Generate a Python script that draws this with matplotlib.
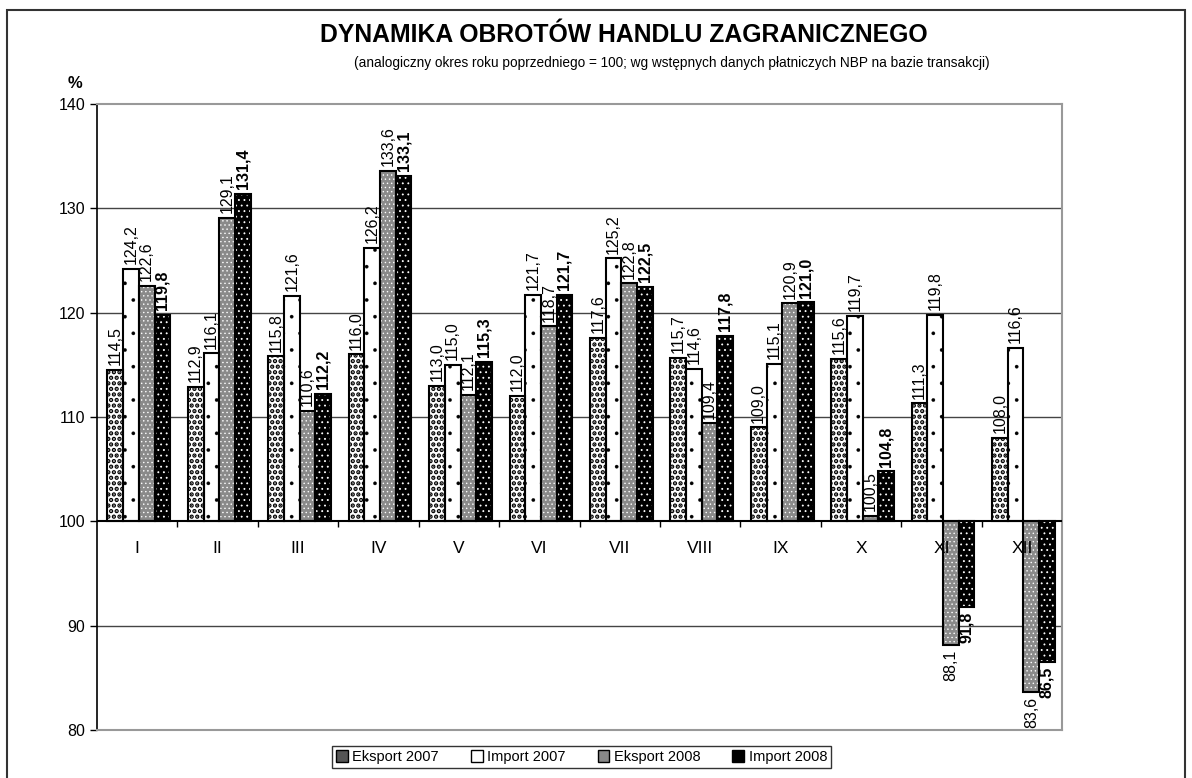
import numpy as np
import matplotlib.pyplot as plt
from matplotlib.patches import Patch, Rectangle

plt.rcParams['font.family'] = ['Liberation Sans', 'DejaVu Sans']

# dane
miesiace = ['I', 'II', 'III', 'IV', 'V', 'VI', 'VII', 'VIII', 'IX', 'X', 'XI', 'XII']
eksport_2007 = [114.5, 112.9, 115.8, 116.0, 113.0, 112.0, 117.6, 115.7, 109.0, 115.6, 111.3, 108.0]
import_2007 = [124.2, 116.1, 121.6, 126.2, 115.0, 121.7, 125.2, 114.6, 115.1, 119.7, 119.8, 116.6]
eksport_2008 = [122.6, 129.1, 110.6, 133.6, 112.1, 118.7, 122.8, 109.4, 120.9, 100.5, 88.1, 83.6]
import_2008 = [119.8, 131.4, 112.2, 133.1, 115.3, 121.7, 122.5, 117.8, 121.0, 104.8, 91.8, 86.5]

# nazwa, dane, kolor, kolor wzoru, wzor, grubosc wzoru, pogrubienie etykiet
serie = [
    ('Eksport 2007', eksport_2007, 'white', 'black', '...', 2.2, False),
    ('Import 2007', import_2007, 'white', 'black', '.', 0.2, False),
    ('Eksport 2008', eksport_2008, '#8a8a8a', 'white', '....', 0.5, False),
    ('Import 2008', import_2008, 'black', 'white', '...', 0.6, True),
]

fig = plt.figure(figsize=(11.92, 7.78), dpi=100)
ax = fig.add_axes([0.0814, 0.0617, 0.8096, 0.8046])

x = np.arange(len(miesiace))
szer = 0.195
for k, (nazwa, wart, kolor, kolor_wz, wzor, lw_wz, pogr) in enumerate(serie):
    pos = x + (k - 1.5) * szer + 0.02
    h = np.array(wart) - 100
    with plt.rc_context({'hatch.linewidth': lw_wz}):
        ax.bar(pos, h, szer, bottom=100, color=kolor, edgecolor=kolor_wz,
               hatch=wzor, linewidth=0, zorder=3)
    ax.bar(pos, h, szer, bottom=100, fill=False, edgecolor='black',
           linewidth=1.5, zorder=4)
    for xi, v in zip(pos, wart):
        etyk = f'{v:.1f}'.replace('.', ',')
        waga = 'bold' if pogr else 'normal'
        if v >= 100:
            ax.text(xi, v + 0.45, etyk, rotation=90, ha='center', va='bottom',
                    fontsize=11.5, fontweight=waga, zorder=5)
        else:
            ax.text(xi, v - 0.45, etyk, rotation=90, ha='center', va='top',
                    fontsize=11.5, fontweight=waga, zorder=5)

ax.set_xlim(-0.5, 11.5)
ax.set_ylim(80, 140)
ax.set_yticks(range(80, 141, 10))
ax.tick_params(axis='y', labelsize=11.5, length=5, width=1)
ax.set_xticks([])
for y in [90, 110, 120, 130]:
    ax.axhline(y, color='#444444', linewidth=1, zorder=1)
ax.axhline(100, color='black', linewidth=1.5, zorder=4)
ax.vlines(np.arange(0.5, 11.5, 1), 99.5, 100, color='black', linewidth=1, zorder=4)
for xi, m in zip(x, miesiace):
    ax.text(xi, 97.4, m, ha='center', va='center', fontsize=12.5, zorder=6)

ax.spines['left'].set_color('black')
ax.spines['left'].set_linewidth(1.2)
for s in ['top', 'right', 'bottom']:
    ax.spines[s].set_color('#999999')
    ax.spines[s].set_linewidth(1.5)

fig.text(0.523, 0.955, 'DYNAMIKA OBROTÓW HANDLU ZAGRANICZNEGO', ha='center',
         va='center', fontsize=17.8, fontweight='bold')
fig.text(0.564, 0.919, '(analogiczny okres roku poprzedniego = 100; wg wstępnych danych płatniczych NBP na bazie transakcji)',
         ha='center', va='center', fontsize=9.8)
fig.text(0.063, 0.893, '%', ha='center', va='center', fontsize=12, fontweight='bold')

uchwyty = [Patch(facecolor='#555555', edgecolor='black', label='Eksport 2007'),
           Patch(facecolor='white', edgecolor='black', label='Import 2007'),
           Patch(facecolor='#888888', edgecolor='black', label='Eksport 2008'),
           Patch(facecolor='black', edgecolor='black', label='Import 2008')]
leg = fig.legend(handles=uchwyty, loc='lower center', bbox_to_anchor=(0.488, 0.003),
                 ncol=4, fontsize=10.5, frameon=True, fancybox=False,
                 handlelength=0.8, handleheight=0.8, handletextpad=0.3,
                 columnspacing=2.2, borderpad=0.3)
leg.get_frame().set_edgecolor('black')
leg.get_frame().set_linewidth(1)

fig.patches.append(Rectangle((0.006, -0.01), 0.988, 0.997, transform=fig.transFigure,
                             fill=False, edgecolor='#333333', linewidth=1.5))

fig.savefig('out.png')
